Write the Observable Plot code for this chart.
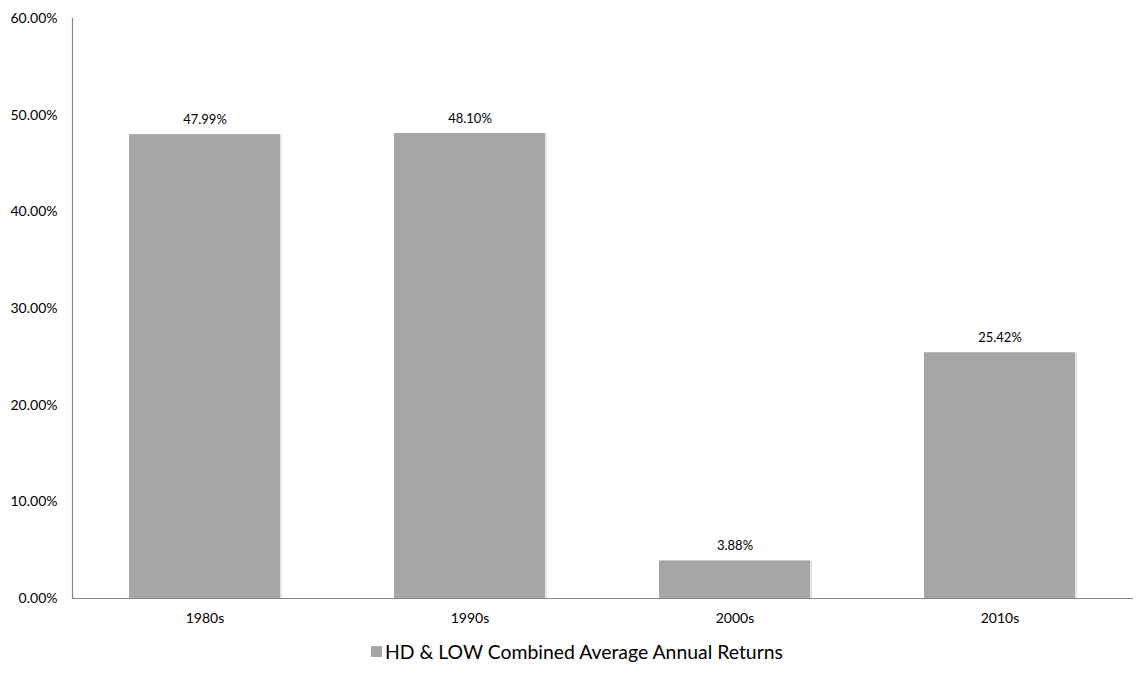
<!DOCTYPE html>
<html>
<head>
<meta charset="utf-8">
<script src="https://cdn.jsdelivr.net/npm/d3@7"></script>
<script src="https://cdn.jsdelivr.net/npm/@observablehq/plot@0.6"></script>
<style>
  body { margin: 0; background: #fff; font-family: Lato, "Open Sans", sans-serif; }
  #legend { position: relative; height: 49px; font-size: 19.4px; color: #000; }
  #legend .item { position: absolute; left: 371px; top: 10px; display: flex; align-items: center; gap: 3px; white-space: nowrap; }
  #legend .sw { width: 11px; height: 11px; background: #a6a6a6; display: inline-block; }
</style>
</head>
<body>
<div id="chart"></div>
<div id="legend"><div class="item"><span class="sw"></span><span>HD &amp; LOW Combined Average Annual Returns</span></div></div>
<script>
const decades = ["1980s", "1990s", "2000s", "2010s"];
const returns = [47.99, 48.10, 3.88, 25.42];
const yTicks = [0, 10, 20, 30, 40, 50, 60];
const seriesName = "HD & LOW Combined Average Annual Returns";

const data = decades.map((d, i) => ({decade: d, value: returns[i]}));

const chart = Plot.plot({
  width: 1148,
  height: 630,
  marginTop: 18,
  marginBottom: 32,
  marginLeft: 72,
  marginRight: 15,
  style: {fontFamily: "Lato, 'Open Sans', sans-serif", fontSize: "14px", color: "#000", background: "#fff"},
  x: {domain: decades, paddingInner: 0.43, paddingOuter: 0.215, label: null, tickSize: 0, tickPadding: 15},
  y: {domain: [0, 60], ticks: yTicks, label: null, tickSize: 0, tickPadding: 15, tickFormat: d => d.toFixed(2) + "%"},
  marks: [
    Plot.barY(data, {x: "decade", y: "value", fill: "#e6e6e6", dx: 2}),
    Plot.barY(data, {x: "decade", y: "value", fill: "#a6a6a6"}),
    Plot.text(data, {x: "decade", y: "value", text: d => d.value.toFixed(2) + "%", dy: -15, fontSize: 13, fill: "#000"}),
    Plot.ruleY([0], {stroke: "#868686", strokeWidth: 1.2}),
    Plot.frame({anchor: "left", stroke: "#868686", strokeWidth: 1.2})
  ]
});
document.getElementById("chart").appendChild(chart);
</script>
</body>
</html>
